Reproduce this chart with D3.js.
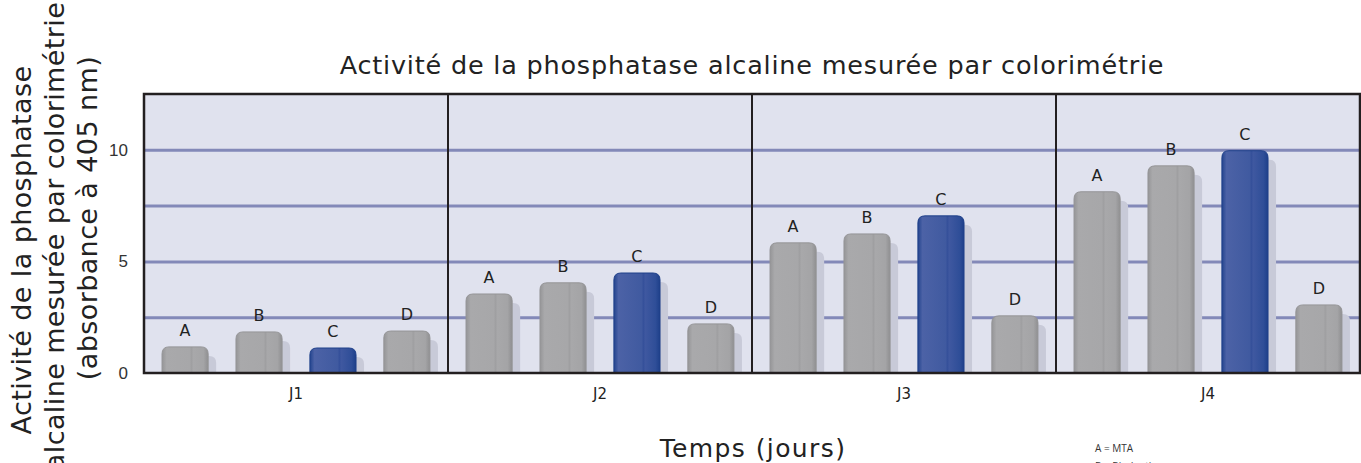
<!DOCTYPE html>
<html lang="fr">
<head>
  <meta charset="UTF-8">
  <script src="https://d3js.org/d3.v7.min.js"></script>
  <title>Phosphatase alcaline</title>
  <style>
    body { margin: 0; background: #fff; }
    svg { display: block; font-family: "DejaVu Sans", Verdana, sans-serif; }
  </style>
</head>
<body>
  <svg width="1361" height="463"></svg>
  <script>
    // données
    const days = ["J1", "J2", "J3", "J4"];
    const groups = ["A", "B", "C", "D"];
    const valuesA = [1.17, 3.54, 5.83, 8.12];
    const valuesB = [1.84, 4.04, 6.23, 9.28];
    const valuesC = [1.12, 4.48, 7.04, 9.96];
    const valuesD = [1.88, 2.20, 2.56, 3.05];
    const yTicks = [0, 5, 10];
    const gridTicks = [2.5, 5, 7.5, 10];
    const legendLines = ["A = MTA", "B = Biodentine\u2122"];

    const series = { A: valuesA, B: valuesB, C: valuesC, D: valuesD };
    const rows = [];
    days.forEach((day, i) => {
      groups.forEach(g => rows.push({ day: day, group: g, value: series[g][i] }));
    });

    const svg = d3.select("svg");
    const pLeft = 144, pRight = 1360, pTop = 94, pBottom = 373;

    const xDay = d3.scaleBand().domain(days).range([pLeft, pRight]);
    const xGroup = d3.scaleBand().domain(groups)
      .range([0, xDay.bandwidth()])
      .paddingInner(0.376)
      .paddingOuter(0.244);
    const yScale = d3.scaleLinear().domain([0, 12.5]).range([pBottom, pTop]);

    // dégradés des barres
    const defs = svg.append("defs");
    const grad = (id, stops) => {
      const lg = defs.append("linearGradient").attr("id", id)
        .attr("x1", 0).attr("x2", 1).attr("y1", 0).attr("y2", 0);
      stops.forEach(s => lg.append("stop").attr("offset", s[0]).attr("stop-color", s[1]));
    };
    grad("gGray", [[0, "#959597"], [0.1, "#a9a9ab"], [0.6, "#a7a7a9"], [0.64, "#9f9fa1"],
                   [0.68, "#a8a8aa"], [0.9, "#a4a4a6"], [1, "#8f8f91"]]);
    grad("gBlue", [[0, "#23448e"], [0.1, "#4c62a6"], [0.6, "#405aa0"], [0.64, "#35509a"],
                   [0.68, "#3f58a0"], [0.9, "#2f4e98"], [1, "#1d3f8a"]]);

    // fond de la zone de tracé
    svg.append("rect")
      .attr("x", pLeft).attr("y", pTop)
      .attr("width", pRight - pLeft).attr("height", pBottom - pTop)
      .style("fill", "#e0e2ee");

    // lignes de grille
    svg.append("g")
      .attr("id", "gridG")
      .attr("transform", `translate(${pLeft},0)`)
      .call(d3.axisLeft(yScale).tickValues(gridTicks).tickSize(-(pRight - pLeft)).tickFormat(""))
      .call(g => g.select("path.domain").remove())
      .call(g => g.selectAll("line").style("stroke", "#8389b8").style("stroke-width", "3px"));

    // axe vertical
    svg.append("g")
      .attr("id", "yAxisG")
      .attr("transform", `translate(${pLeft - 16},0)`)
      .call(d3.axisLeft(yScale).tickValues(yTicks).tickSize(0).tickPadding(0))
      .call(g => g.select("path.domain").remove())
      .call(g => g.selectAll("text")
        .style("font-family", "'Liberation Sans', Arial, sans-serif")
        .style("font-size", "17px").style("fill", "#333"));

    const barPath = (x, y, w, h, r) => {
      r = Math.min(r, h);
      return `M${x},${y + h} V${y + r} Q${x},${y} ${x + r},${y} H${x + w - r} Q${x + w},${y} ${x + w},${y + r} V${y + h} Z`;
    };

    const bars = svg.append("g").selectAll("g.bar")
      .data(rows)
      .enter()
      .append("g")
      .attr("class", "bar")
      .attr("transform", d => `translate(${xDay(d.day) + xGroup(d.group)},0)`);

    // ombre portée
    bars.append("path")
      .attr("d", d => {
        const y = yScale(d.value) + 9;
        return barPath(8, y, xGroup.bandwidth(), Math.max(0, pBottom - y), 7);
      })
      .style("fill", "#c8cad8");

    bars.append("path")
      .attr("d", d => barPath(0, yScale(d.value), xGroup.bandwidth(), pBottom - yScale(d.value), 7))
      .style("fill", d => d.group === "C" ? "url(#gBlue)" : "url(#gGray)")
      .style("stroke", d => d.group === "C" ? "#1f408a" : "#959597")
      .style("stroke-width", "1px");

    bars.append("text")
      .attr("x", xGroup.bandwidth() / 2)
      .attr("y", d => yScale(d.value) - 11)
      .attr("text-anchor", "middle")
      .style("font-size", "16px")
      .style("fill", "#222")
      .text(d => d.group);

    // séparateurs de jours
    svg.append("g").selectAll("line.sep")
      .data(days.slice(1))
      .enter()
      .append("line")
      .attr("x1", d => xDay(d)).attr("x2", d => xDay(d))
      .attr("y1", pTop).attr("y2", pBottom)
      .style("stroke", "#231f20").style("stroke-width", "2px");

    // cadre
    svg.append("rect")
      .attr("x", pLeft).attr("y", pTop)
      .attr("width", pRight - pLeft).attr("height", pBottom - pTop)
      .style("fill", "none").style("stroke", "#231f20").style("stroke-width", "2.5px");

    // étiquettes des jours
    svg.append("g").selectAll("text.day")
      .data(days)
      .enter()
      .append("text")
      .attr("x", d => xDay(d) + xDay.bandwidth() / 2)
      .attr("y", 399)
      .attr("text-anchor", "middle")
      .style("font-size", "15px").style("fill", "#222")
      .text(d => d);

    svg.append("text")
      .attr("x", 752).attr("y", 74)
      .attr("text-anchor", "middle")
      .style("font-size", "25.5px").style("letter-spacing", "0.8px").style("fill", "#222")
      .text("Activité de la phosphatase alcaline mesurée par colorimétrie");

    svg.append("text")
      .attr("x", 753).attr("y", 457)
      .attr("text-anchor", "middle")
      .style("font-size", "25px").style("letter-spacing", "1.4px").style("fill", "#222")
      .text("Temps (jours)");

    // titre de l'axe vertical
    const yTitle = [
      { t: "Activité de la phosphatase", x: 31, cy: 250 },
      { t: "alcaline mesurée par colorimétrie", x: 64, cy: 236 },
      { t: "(absorbance à 405 nm)", x: 97, cy: 218 }
    ];
    svg.append("g").selectAll("text.ytitle")
      .data(yTitle)
      .enter()
      .append("text")
      .attr("transform", d => `translate(${d.x},${d.cy}) rotate(-90)`)
      .attr("text-anchor", "middle")
      .style("font-size", "27px").style("letter-spacing", "0.4px").style("fill", "#222")
      .text(d => d.t);

    // légende
    svg.append("g").selectAll("text.legend")
      .data(legendLines)
      .enter()
      .append("text")
      .attr("x", 1095)
      .attr("y", (d, i) => 452 + i * 18)
      .style("font-family", "'Open Sans', sans-serif")
      .style("font-size", "10px").style("fill", "#333")
      .text(d => d);
  </script>
</body>
</html>
